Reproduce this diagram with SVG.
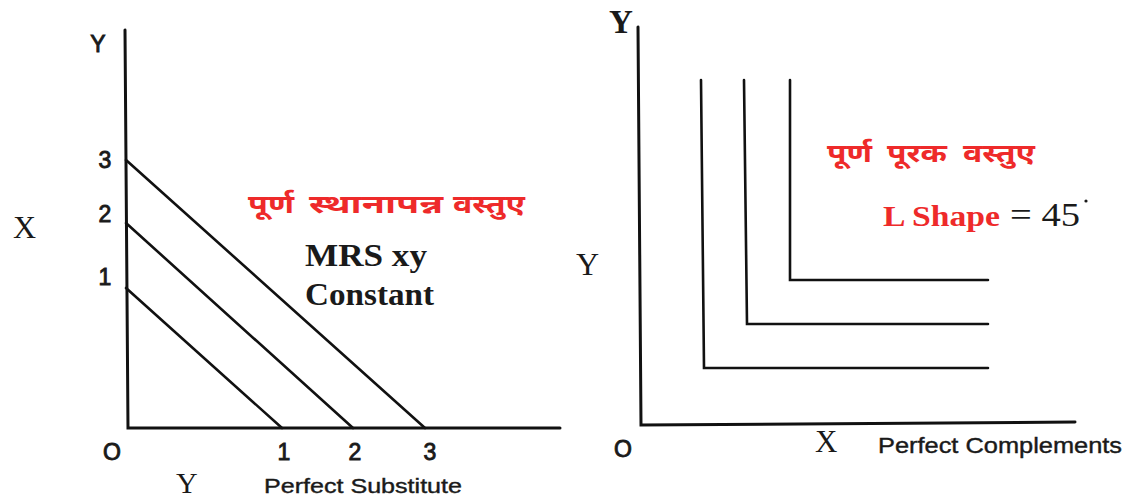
<svg xmlns="http://www.w3.org/2000/svg" width="1126" height="501" viewBox="0 0 1126 501">
<style>
.ax{stroke:#111;stroke-width:3;fill:none;stroke-linecap:round}
.cv{stroke:#111;stroke-width:2.6;fill:none;stroke-linecap:round;stroke-linejoin:miter}
.num{font-family:"Liberation Sans",Arial,sans-serif;font-size:23px;fill:#1a1a1a;stroke:#1a1a1a;stroke-width:0.9;text-anchor:middle}
.cap{font-family:"Liberation Sans",Arial,sans-serif;fill:#1a1a1a;stroke:#1a1a1a;stroke-width:0.4}
.ser{font-family:"Liberation Serif","Times New Roman",serif;fill:#1a1a1a}
.hin{font-family:"Noto Sans Devanagari","Noto Sans","Lohit Devanagari","Noto Serif Devanagari",sans-serif;font-weight:bold;fill:#ee2a2a;font-size:26px}
</style>
<rect width="1126" height="501" fill="#ffffff"/>
<g id="left-axes">
<path class="ax" d="M125,30 L128,428 L560,428"/>
</g>
<g id="connectors">
<line class="cv" x1="126" y1="160" x2="425" y2="428"/>
<line class="cv" x1="126" y1="223" x2="353" y2="428"/>
<line class="cv" x1="126" y1="288" x2="282" y2="428"/>
<path class="cv" d="M790,80 L790,280 L988,280"/>
<path class="cv" d="M744,80 L747,324 L988,324"/>
<path class="cv" d="M701,80 L704,368 L988,368"/>
</g>
<g id="right-axes">
<path class="ax" d="M638,27 L641,425 L1075,422"/>
</g>
<g id="left-labels">
<text class="num" x="98" y="52" font-size="24">Y</text>
<text class="num" x="105" y="168">3</text>
<text class="num" x="105" y="222">2</text>
<text class="num" x="105" y="285">1</text>
<text class="num" x="112" y="460" font-size="25">O</text>
<text class="num" x="284" y="460">1</text>
<text class="num" x="355" y="460">2</text>
<text class="num" x="430" y="460">3</text>
<text class="ser" x="13" y="238" font-size="32">X</text>
<text class="ser" x="176" y="493" font-size="30">Y</text>
<text class="cap" x="264" y="493" font-size="21" textLength="198" lengthAdjust="spacingAndGlyphs">Perfect Substitute</text>
<text class="hin" y="213"><tspan x="248" textLength="46" lengthAdjust="spacingAndGlyphs">पूर्ण</tspan><tspan x="309" textLength="134" lengthAdjust="spacingAndGlyphs">स्थानापन्न</tspan><tspan x="453" textLength="72" lengthAdjust="spacingAndGlyphs">वस्तुए</tspan></text>
<text class="ser" x="305" y="266" font-size="31" font-weight="bold" textLength="122" lengthAdjust="spacingAndGlyphs">MRS xy</text>
<text class="ser" x="305" y="305" font-size="31" font-weight="bold" textLength="129" lengthAdjust="spacingAndGlyphs">Constant</text>
</g>
<g id="right-labels">
<text class="ser" x="609" y="33" font-size="33" font-weight="bold">Y</text>
<text class="ser" x="576" y="275" font-size="32">Y</text>
<text class="num" x="623" y="457" font-size="25">O</text>
<text class="ser" x="815" y="452" font-size="31">X</text>
<text class="cap" x="878" y="453" font-size="22" textLength="244" lengthAdjust="spacingAndGlyphs">Perfect Complements</text>
<text class="hin" y="162"><tspan x="827" textLength="45" lengthAdjust="spacingAndGlyphs">पूर्ण</tspan><tspan x="887" textLength="60" lengthAdjust="spacingAndGlyphs">पूरक</tspan><tspan x="963" textLength="72" lengthAdjust="spacingAndGlyphs">वस्तुए</tspan></text>
<text class="ser" x="883" y="226" font-size="29" font-weight="bold" style="fill:#ee2a2a" textLength="117" lengthAdjust="spacingAndGlyphs">L Shape</text>
<text class="ser" x="1010" y="226" font-size="34" textLength="70" lengthAdjust="spacingAndGlyphs">= 45</text>
<circle cx="1086" cy="201" r="1.6" fill="#1a1a1a"/>
</g>
</svg>
